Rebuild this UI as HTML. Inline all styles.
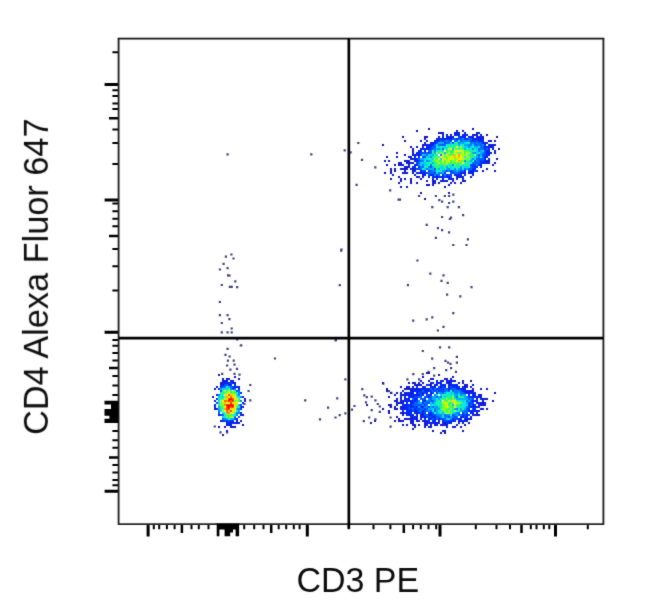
<!DOCTYPE html>
<html><head><meta charset="utf-8"><style>
html,body{margin:0;padding:0;background:#fff;}
body{width:650px;height:607px;position:relative;overflow:hidden;}
svg{position:absolute;left:0;top:0;}
.t{font-family:"Liberation Sans",sans-serif;font-size:34px;fill:#111;}
</style></head><body>
<svg width="650" height="607" viewBox="0 0 650 607">
<defs><filter id="b" x="-5%" y="-5%" width="110%" height="110%"><feConvolveMatrix order="3" kernelMatrix="0.0113 0.0838 0.0113 0.0838 0.6193 0.0838 0.0113 0.0838 0.0113" preserveAlpha="false"/></filter></defs>
<rect width="650" height="607" fill="#fff"/>
<g filter="url(#b)">
<path fill="#424280" d="M224.8 255.6h2.2v2.2h-2.2zM230.3 253.4h2.2v2.2h-2.2zM232.4 257.4h2.2v2.2h-2.2zM222.5 262.8h2.2v2.2h-2.2zM218.8 268.4h2.2v2.2h-2.2zM226.5 267.0h2.2v2.2h-2.2zM227.0 274.2h2.2v2.2h-2.2zM228.3 274.6h2.2v2.2h-2.2zM234.2 280.2h2.2v2.2h-2.2zM220.7 283.9h2.2v2.2h-2.2zM228.8 285.7h2.2v2.2h-2.2zM230.6 285.7h2.2v2.2h-2.2zM236.1 286.0h2.2v2.2h-2.2zM218.8 300.9h2.2v2.2h-2.2zM218.8 314.1h2.2v2.2h-2.2zM226.5 314.1h2.2v2.2h-2.2zM228.3 318.1h2.2v2.2h-2.2zM220.7 321.9h2.2v2.2h-2.2zM230.6 327.4h2.2v2.2h-2.2zM220.7 331.3h2.2v2.2h-2.2zM226.5 331.3h2.2v2.2h-2.2zM230.6 331.3h2.2v2.2h-2.2zM236.1 338.2h2.2v2.2h-2.2zM239.7 344.4h2.2v2.2h-2.2zM226.5 347.7h2.2v2.2h-2.2zM226.5 153.2h2.2v2.2h-2.2zM310.2 153.2h2.2v2.2h-2.2zM343.6 149.2h2.2v2.2h-2.2zM349.5 151.2h2.2v2.2h-2.2zM357.2 141.9h2.2v2.2h-2.2zM355.5 183.7h2.2v2.2h-2.2zM340.4 248.4h2.2v2.2h-2.2zM389.1 189.3h2.2v2.2h-2.2zM397.5 198.6h2.2v2.2h-2.2zM398.9 198.6h2.2v2.2h-2.2zM418.0 194.9h2.2v2.2h-2.2zM431.2 206.1h2.2v2.2h-2.2zM434.8 194.9h2.2v2.2h-2.2zM438.2 199.1h2.2v2.2h-2.2zM441.0 200.5h2.2v2.2h-2.2zM443.8 194.9h2.2v2.2h-2.2zM448.0 194.9h2.2v2.2h-2.2zM452.2 193.5h2.2v2.2h-2.2zM448.0 201.9h2.2v2.2h-2.2zM452.2 200.5h2.2v2.2h-2.2zM446.6 206.1h2.2v2.2h-2.2zM457.8 206.1h2.2v2.2h-2.2zM441.0 215.9h2.2v2.2h-2.2zM449.9 216.5h2.2v2.2h-2.2zM448.8 217.9h2.2v2.2h-2.2zM462.0 214.0h2.2v2.2h-2.2zM425.6 223.8h2.2v2.2h-2.2zM436.8 227.1h2.2v2.2h-2.2zM441.0 229.1h2.2v2.2h-2.2zM448.0 231.3h2.2v2.2h-2.2zM434.8 236.7h2.2v2.2h-2.2zM466.8 238.3h2.2v2.2h-2.2zM452.2 243.9h2.2v2.2h-2.2zM465.4 243.9h2.2v2.2h-2.2zM340.1 249.6h2.2v2.2h-2.2zM416.3 259.4h2.2v2.2h-2.2zM429.2 272.5h2.2v2.2h-2.2zM442.4 274.2h2.2v2.2h-2.2zM440.4 279.8h2.2v2.2h-2.2zM446.6 281.8h2.2v2.2h-2.2zM406.8 284.0h2.2v2.2h-2.2zM338.7 284.0h2.2v2.2h-2.2zM470.4 286.0h2.2v2.2h-2.2zM446.0 293.5h2.2v2.2h-2.2zM459.2 295.2h2.2v2.2h-2.2zM452.2 312.0h2.2v2.2h-2.2zM412.1 319.6h2.2v2.2h-2.2zM425.6 318.2h2.2v2.2h-2.2zM431.2 316.2h2.2v2.2h-2.2zM442.4 325.8h2.2v2.2h-2.2zM436.8 329.4h2.2v2.2h-2.2zM334.5 339.2h2.2v2.2h-2.2zM240.1 344.3h2.2v2.2h-2.2zM273.9 357.4h2.2v2.2h-2.2zM249.2 383.9h2.2v2.2h-2.2zM247.5 389.9h2.2v2.2h-2.2zM249.2 399.2h2.2v2.2h-2.2zM243.3 402.9h2.2v2.2h-2.2zM304.1 399.2h2.2v2.2h-2.2zM344.3 378.3h2.2v2.2h-2.2zM336.1 397.2h2.2v2.2h-2.2zM327.0 406.6h2.2v2.2h-2.2zM318.9 418.2h2.2v2.2h-2.2zM334.4 416.4h2.2v2.2h-2.2zM338.6 414.0h2.2v2.2h-2.2zM344.3 412.3h2.2v2.2h-2.2zM353.4 404.9h2.2v2.2h-2.2zM350.9 408.6h2.2v2.2h-2.2zM361.2 388.1h2.2v2.2h-2.2zM363.2 394.3h2.2v2.2h-2.2zM365.7 396.0h2.2v2.2h-2.2zM370.6 395.5h2.2v2.2h-2.2zM382.2 382.5h2.2v2.2h-2.2zM364.9 401.2h2.2v2.2h-2.2zM374.3 399.2h2.2v2.2h-2.2zM376.7 402.9h2.2v2.2h-2.2zM378.7 405.4h2.2v2.2h-2.2zM370.6 409.1h2.2v2.2h-2.2zM378.7 410.8h2.2v2.2h-2.2zM368.1 416.4h2.2v2.2h-2.2zM362.7 420.1h2.2v2.2h-2.2zM374.3 418.2h2.2v2.2h-2.2zM387.8 390.1h2.2v2.2h-2.2zM390.3 391.8h2.2v2.2h-2.2zM389.5 405.9h2.2v2.2h-2.2zM387.8 410.3h2.2v2.2h-2.2zM389.5 416.4h2.2v2.2h-2.2zM389.5 425.5h2.2v2.2h-2.2zM334.9 338.9h2.2v2.2h-2.2zM224.4 353.7h2.2v2.2h-2.2zM228.5 355.4h2.2v2.2h-2.2zM226.8 359.5h2.2v2.2h-2.2zM232.6 359.5h2.2v2.2h-2.2zM226.0 364.4h2.2v2.2h-2.2zM233.4 363.6h2.2v2.2h-2.2zM229.3 368.6h2.2v2.2h-2.2zM235.9 367.7h2.2v2.2h-2.2zM221.1 372.7h2.2v2.2h-2.2zM233.4 372.7h2.2v2.2h-2.2zM238.4 373.5h2.2v2.2h-2.2zM213.7 425.4h2.2v2.2h-2.2zM219.4 431.2h2.2v2.2h-2.2zM226.0 431.2h2.2v2.2h-2.2zM421.7 349.9h2.2v2.2h-2.2zM438.9 346.2h2.2v2.2h-2.2zM448.1 346.2h2.2v2.2h-2.2zM431.1 357.5h2.2v2.2h-2.2zM455.8 355.8h2.2v2.2h-2.2zM444.4 359.7h2.2v2.2h-2.2zM446.9 361.6h2.2v2.2h-2.2zM449.4 362.8h2.2v2.2h-2.2zM455.8 361.6h2.2v2.2h-2.2zM433.1 367.1h2.2v2.2h-2.2zM450.0 367.1h2.2v2.2h-2.2zM445.1 369.0h2.2v2.2h-2.2zM454.9 370.8h2.2v2.2h-2.2zM412.2 373.0h2.2v2.2h-2.2zM421.7 373.0h2.2v2.2h-2.2zM427.5 370.8h2.2v2.2h-2.2zM433.1 374.5h2.2v2.2h-2.2zM406.3 378.2h2.2v2.2h-2.2zM418.0 378.2h2.2v2.2h-2.2zM360.9 158.8h2.2v2.2h-2.2zM374.2 166.3h2.2v2.2h-2.2z"/>
<path fill="#1414be" d="M428 128h2v2h-2zM416 130h2v2h-2zM402 136h2v2h-2zM404 140h2v2h-2zM382 144h2v2h-2zM396 152h2v2h-2zM386 156h2v2h-2zM388 160h2v2h-2zM494 170h2v2h-2zM384 172h2v2h-2zM420 192h2v2h-2zM448 192h2v2h-2zM424 198h2v2h-2zM426 372h2v2h-2zM218 374h2v2h-2zM382 382h2v2h-2zM486 388h2v2h-2zM494 392h2v2h-2zM366 404h2v2h-2zM382 408h2v2h-2zM374 420h2v2h-2zM370 422h2v2h-2zM222 434h2v2h-2z"/>
<path fill="#1117c9" d="M472 128h2v2h-2zM440 132h2v2h-2zM486 134h2v2h-2zM424 136h2v2h-2zM426 136h2v2h-2zM496 136h2v2h-2zM420 140h2v2h-2zM494 140h2v2h-2zM410 146h2v2h-2zM498 148h2v2h-2zM494 152h2v2h-2zM404 154h2v2h-2zM396 156h2v2h-2zM408 156h2v2h-2zM496 158h2v2h-2zM384 160h2v2h-2zM404 160h2v2h-2zM494 162h2v2h-2zM386 164h2v2h-2zM394 164h2v2h-2zM398 164h2v2h-2zM492 164h2v2h-2zM390 168h2v2h-2zM390 170h2v2h-2zM394 170h2v2h-2zM390 172h2v2h-2zM392 174h2v2h-2zM398 176h2v2h-2zM470 176h2v2h-2zM390 178h2v2h-2zM400 178h2v2h-2zM404 178h2v2h-2zM400 180h2v2h-2zM410 180h2v2h-2zM464 180h2v2h-2zM398 182h2v2h-2zM410 182h2v2h-2zM416 182h2v2h-2zM450 182h2v2h-2zM426 184h2v2h-2zM428 184h2v2h-2zM400 186h2v2h-2zM406 186h2v2h-2zM444 186h2v2h-2zM428 372h2v2h-2zM438 374h2v2h-2zM234 376h2v2h-2zM422 376h2v2h-2zM452 376h2v2h-2zM238 378h2v2h-2zM420 380h2v2h-2zM470 380h2v2h-2zM408 382h2v2h-2zM412 382h2v2h-2zM472 384h2v2h-2zM400 386h2v2h-2zM386 388h2v2h-2zM480 388h2v2h-2zM386 390h2v2h-2zM390 392h2v2h-2zM396 392h2v2h-2zM394 394h2v2h-2zM212 396h2v2h-2zM388 396h2v2h-2zM486 398h2v2h-2zM492 400h2v2h-2zM388 404h2v2h-2zM390 404h2v2h-2zM390 406h2v2h-2zM394 406h2v2h-2zM394 408h2v2h-2zM486 408h2v2h-2zM388 410h2v2h-2zM388 412h2v2h-2zM396 416h2v2h-2zM398 418h2v2h-2zM404 418h2v2h-2zM394 420h2v2h-2zM398 420h2v2h-2zM400 420h2v2h-2zM242 424h2v2h-2zM402 424h2v2h-2zM406 424h2v2h-2zM218 426h2v2h-2zM424 426h2v2h-2zM460 426h2v2h-2zM412 428h2v2h-2zM226 430h2v2h-2zM432 430h2v2h-2zM442 430h2v2h-2zM444 430h2v2h-2zM462 430h2v2h-2zM440 432h2v2h-2zM444 432h2v2h-2z"/>
<path fill="#0d1bd4" d="M456 130h2v2h-2zM462 130h2v2h-2zM438 132h2v2h-2zM442 132h2v2h-2zM454 132h2v2h-2zM476 132h2v2h-2zM478 132h2v2h-2zM442 134h2v2h-2zM452 136h2v2h-2zM424 138h2v2h-2zM490 140h2v2h-2zM424 142h2v2h-2zM494 144h2v2h-2zM416 146h2v2h-2zM412 148h2v2h-2zM492 148h2v2h-2zM412 150h2v2h-2zM410 156h2v2h-2zM488 160h2v2h-2zM398 162h2v2h-2zM400 162h2v2h-2zM406 162h2v2h-2zM400 164h2v2h-2zM402 164h2v2h-2zM404 166h2v2h-2zM394 168h2v2h-2zM400 168h2v2h-2zM402 168h2v2h-2zM404 168h2v2h-2zM406 168h2v2h-2zM412 168h2v2h-2zM486 168h2v2h-2zM404 170h2v2h-2zM482 170h2v2h-2zM402 172h2v2h-2zM404 172h2v2h-2zM406 172h2v2h-2zM412 172h2v2h-2zM414 174h2v2h-2zM472 174h2v2h-2zM416 176h2v2h-2zM418 176h2v2h-2zM410 178h2v2h-2zM420 178h2v2h-2zM426 180h2v2h-2zM434 180h2v2h-2zM452 180h2v2h-2zM462 180h2v2h-2zM432 182h2v2h-2zM438 182h2v2h-2zM454 182h2v2h-2zM460 182h2v2h-2zM432 184h2v2h-2zM448 184h2v2h-2zM222 378h2v2h-2zM228 378h2v2h-2zM430 378h2v2h-2zM432 378h2v2h-2zM446 378h2v2h-2zM428 380h2v2h-2zM454 380h2v2h-2zM462 380h2v2h-2zM414 382h2v2h-2zM418 382h2v2h-2zM422 382h2v2h-2zM458 382h2v2h-2zM416 384h2v2h-2zM464 384h2v2h-2zM238 386h2v2h-2zM406 386h2v2h-2zM214 388h2v2h-2zM404 388h2v2h-2zM406 388h2v2h-2zM408 388h2v2h-2zM402 390h2v2h-2zM472 390h2v2h-2zM400 392h2v2h-2zM404 392h2v2h-2zM480 394h2v2h-2zM480 396h2v2h-2zM244 398h2v2h-2zM396 398h2v2h-2zM484 398h2v2h-2zM394 400h2v2h-2zM396 400h2v2h-2zM482 400h2v2h-2zM396 402h2v2h-2zM484 402h2v2h-2zM396 404h2v2h-2zM482 404h2v2h-2zM484 404h2v2h-2zM396 408h2v2h-2zM482 408h2v2h-2zM400 412h2v2h-2zM476 412h2v2h-2zM242 414h2v2h-2zM476 414h2v2h-2zM478 414h2v2h-2zM240 420h2v2h-2zM402 420h2v2h-2zM238 422h2v2h-2zM462 422h2v2h-2zM468 422h2v2h-2zM412 424h2v2h-2zM414 424h2v2h-2zM418 424h2v2h-2zM436 424h2v2h-2zM440 424h2v2h-2zM442 424h2v2h-2zM446 424h2v2h-2zM456 424h2v2h-2zM464 424h2v2h-2zM224 426h2v2h-2zM230 426h2v2h-2zM232 426h2v2h-2zM234 426h2v2h-2zM414 426h2v2h-2zM428 426h2v2h-2zM430 426h2v2h-2zM446 426h2v2h-2zM452 426h2v2h-2zM454 426h2v2h-2z"/>
<path fill="#0a1ede" d="M458 132h2v2h-2zM464 132h2v2h-2zM446 134h2v2h-2zM472 134h2v2h-2zM474 134h2v2h-2zM480 134h2v2h-2zM438 136h2v2h-2zM482 136h2v2h-2zM450 138h2v2h-2zM482 138h2v2h-2zM426 140h2v2h-2zM488 140h2v2h-2zM422 144h2v2h-2zM424 144h2v2h-2zM490 144h2v2h-2zM492 144h2v2h-2zM490 146h2v2h-2zM492 146h2v2h-2zM494 150h2v2h-2zM412 152h2v2h-2zM412 154h2v2h-2zM414 154h2v2h-2zM410 158h2v2h-2zM406 160h2v2h-2zM408 160h2v2h-2zM486 160h2v2h-2zM408 162h2v2h-2zM410 162h2v2h-2zM488 162h2v2h-2zM408 164h2v2h-2zM406 166h2v2h-2zM408 166h2v2h-2zM410 168h2v2h-2zM412 170h2v2h-2zM414 170h2v2h-2zM470 172h2v2h-2zM472 172h2v2h-2zM424 174h2v2h-2zM430 174h2v2h-2zM422 176h2v2h-2zM460 176h2v2h-2zM462 176h2v2h-2zM450 178h2v2h-2zM462 178h2v2h-2zM432 180h2v2h-2zM440 180h2v2h-2zM442 180h2v2h-2zM446 180h2v2h-2zM434 182h2v2h-2zM226 378h2v2h-2zM444 378h2v2h-2zM450 378h2v2h-2zM222 380h2v2h-2zM224 380h2v2h-2zM226 380h2v2h-2zM232 380h2v2h-2zM436 380h2v2h-2zM442 380h2v2h-2zM448 380h2v2h-2zM452 380h2v2h-2zM220 382h2v2h-2zM234 382h2v2h-2zM430 382h2v2h-2zM448 382h2v2h-2zM462 382h2v2h-2zM414 384h2v2h-2zM418 384h2v2h-2zM420 384h2v2h-2zM430 384h2v2h-2zM434 384h2v2h-2zM466 384h2v2h-2zM216 386h2v2h-2zM408 386h2v2h-2zM412 386h2v2h-2zM464 386h2v2h-2zM470 386h2v2h-2zM412 388h2v2h-2zM472 388h2v2h-2zM462 390h2v2h-2zM470 390h2v2h-2zM400 394h2v2h-2zM402 394h2v2h-2zM404 394h2v2h-2zM478 394h2v2h-2zM242 396h2v2h-2zM400 396h2v2h-2zM400 398h2v2h-2zM482 398h2v2h-2zM244 400h2v2h-2zM400 400h2v2h-2zM476 400h2v2h-2zM398 402h2v2h-2zM400 402h2v2h-2zM402 402h2v2h-2zM482 402h2v2h-2zM480 404h2v2h-2zM400 406h2v2h-2zM214 408h2v2h-2zM480 408h2v2h-2zM476 410h2v2h-2zM478 410h2v2h-2zM402 412h2v2h-2zM402 414h2v2h-2zM420 414h2v2h-2zM474 414h2v2h-2zM416 416h2v2h-2zM406 418h2v2h-2zM410 418h2v2h-2zM416 418h2v2h-2zM430 418h2v2h-2zM466 418h2v2h-2zM468 418h2v2h-2zM470 418h2v2h-2zM220 420h2v2h-2zM236 420h2v2h-2zM410 420h2v2h-2zM412 420h2v2h-2zM416 420h2v2h-2zM418 420h2v2h-2zM422 420h2v2h-2zM466 420h2v2h-2zM236 422h2v2h-2zM410 422h2v2h-2zM412 422h2v2h-2zM424 422h2v2h-2zM436 422h2v2h-2zM444 422h2v2h-2zM458 422h2v2h-2zM226 424h2v2h-2zM230 424h2v2h-2zM424 424h2v2h-2zM430 424h2v2h-2z"/>
<path fill="#0721e9" d="M450 134h2v2h-2zM454 134h2v2h-2zM458 134h2v2h-2zM476 134h2v2h-2zM448 136h2v2h-2zM462 136h2v2h-2zM472 136h2v2h-2zM476 136h2v2h-2zM478 136h2v2h-2zM480 136h2v2h-2zM436 138h2v2h-2zM438 138h2v2h-2zM472 138h2v2h-2zM478 138h2v2h-2zM438 140h2v2h-2zM482 140h2v2h-2zM430 142h2v2h-2zM486 142h2v2h-2zM426 144h2v2h-2zM484 144h2v2h-2zM422 146h2v2h-2zM486 146h2v2h-2zM424 148h2v2h-2zM418 152h2v2h-2zM490 152h2v2h-2zM416 154h2v2h-2zM486 156h2v2h-2zM488 158h2v2h-2zM414 160h2v2h-2zM412 162h2v2h-2zM484 162h2v2h-2zM486 162h2v2h-2zM472 164h2v2h-2zM412 166h2v2h-2zM476 170h2v2h-2zM416 172h2v2h-2zM460 172h2v2h-2zM422 174h2v2h-2zM458 174h2v2h-2zM460 174h2v2h-2zM464 174h2v2h-2zM428 176h2v2h-2zM456 176h2v2h-2zM458 176h2v2h-2zM432 178h2v2h-2zM436 178h2v2h-2zM448 178h2v2h-2zM452 178h2v2h-2zM456 178h2v2h-2zM230 380h2v2h-2zM440 380h2v2h-2zM446 380h2v2h-2zM450 380h2v2h-2zM222 382h2v2h-2zM224 382h2v2h-2zM228 382h2v2h-2zM432 382h2v2h-2zM440 382h2v2h-2zM446 382h2v2h-2zM450 382h2v2h-2zM220 384h2v2h-2zM426 384h2v2h-2zM428 384h2v2h-2zM448 384h2v2h-2zM450 384h2v2h-2zM416 386h2v2h-2zM422 386h2v2h-2zM444 386h2v2h-2zM448 386h2v2h-2zM456 386h2v2h-2zM462 386h2v2h-2zM466 386h2v2h-2zM238 388h2v2h-2zM410 388h2v2h-2zM414 388h2v2h-2zM416 388h2v2h-2zM428 388h2v2h-2zM462 388h2v2h-2zM464 388h2v2h-2zM410 390h2v2h-2zM412 390h2v2h-2zM414 390h2v2h-2zM468 390h2v2h-2zM406 392h2v2h-2zM408 392h2v2h-2zM410 392h2v2h-2zM416 392h2v2h-2zM430 392h2v2h-2zM466 392h2v2h-2zM468 392h2v2h-2zM470 392h2v2h-2zM474 392h2v2h-2zM216 394h2v2h-2zM406 394h2v2h-2zM414 394h2v2h-2zM422 394h2v2h-2zM404 396h2v2h-2zM410 396h2v2h-2zM476 396h2v2h-2zM406 398h2v2h-2zM476 398h2v2h-2zM480 398h2v2h-2zM402 400h2v2h-2zM404 400h2v2h-2zM408 400h2v2h-2zM412 400h2v2h-2zM476 402h2v2h-2zM478 402h2v2h-2zM480 402h2v2h-2zM214 404h2v2h-2zM402 404h2v2h-2zM474 404h2v2h-2zM478 404h2v2h-2zM214 406h2v2h-2zM416 406h2v2h-2zM476 406h2v2h-2zM478 406h2v2h-2zM400 408h2v2h-2zM402 408h2v2h-2zM474 408h2v2h-2zM402 410h2v2h-2zM422 410h2v2h-2zM240 412h2v2h-2zM414 412h2v2h-2zM470 412h2v2h-2zM406 414h2v2h-2zM416 414h2v2h-2zM428 414h2v2h-2zM472 414h2v2h-2zM410 416h2v2h-2zM412 416h2v2h-2zM420 416h2v2h-2zM422 416h2v2h-2zM470 416h2v2h-2zM408 418h2v2h-2zM412 418h2v2h-2zM414 418h2v2h-2zM424 418h2v2h-2zM424 420h2v2h-2zM426 420h2v2h-2zM458 420h2v2h-2zM462 420h2v2h-2zM464 420h2v2h-2zM230 422h2v2h-2zM232 422h2v2h-2zM234 422h2v2h-2zM426 422h2v2h-2zM430 422h2v2h-2zM432 422h2v2h-2zM434 422h2v2h-2zM438 422h2v2h-2zM442 422h2v2h-2zM450 422h2v2h-2zM426 424h2v2h-2zM434 424h2v2h-2zM444 424h2v2h-2z"/>
<path fill="#0325f4" d="M456 132h2v2h-2zM456 134h2v2h-2zM462 134h2v2h-2zM466 134h2v2h-2zM442 136h2v2h-2zM446 136h2v2h-2zM450 136h2v2h-2zM460 136h2v2h-2zM470 136h2v2h-2zM444 138h2v2h-2zM446 138h2v2h-2zM456 138h2v2h-2zM464 138h2v2h-2zM474 138h2v2h-2zM476 138h2v2h-2zM480 138h2v2h-2zM434 140h2v2h-2zM436 140h2v2h-2zM472 140h2v2h-2zM480 140h2v2h-2zM432 142h2v2h-2zM444 142h2v2h-2zM482 142h2v2h-2zM484 142h2v2h-2zM428 144h2v2h-2zM430 144h2v2h-2zM432 144h2v2h-2zM488 144h2v2h-2zM428 146h2v2h-2zM488 146h2v2h-2zM420 148h2v2h-2zM422 148h2v2h-2zM488 148h2v2h-2zM420 150h2v2h-2zM488 150h2v2h-2zM416 152h2v2h-2zM488 152h2v2h-2zM418 156h2v2h-2zM412 158h2v2h-2zM414 158h2v2h-2zM416 158h2v2h-2zM484 158h2v2h-2zM416 160h2v2h-2zM482 162h2v2h-2zM414 164h2v2h-2zM416 164h2v2h-2zM480 164h2v2h-2zM414 166h2v2h-2zM480 166h2v2h-2zM414 168h2v2h-2zM472 168h2v2h-2zM474 168h2v2h-2zM420 170h2v2h-2zM418 172h2v2h-2zM420 172h2v2h-2zM422 172h2v2h-2zM424 172h2v2h-2zM444 172h2v2h-2zM468 172h2v2h-2zM454 174h2v2h-2zM432 176h2v2h-2zM436 176h2v2h-2zM442 176h2v2h-2zM446 176h2v2h-2zM442 178h2v2h-2zM444 180h2v2h-2zM226 382h2v2h-2zM232 382h2v2h-2zM436 382h2v2h-2zM438 382h2v2h-2zM222 384h2v2h-2zM234 384h2v2h-2zM436 384h2v2h-2zM442 384h2v2h-2zM444 384h2v2h-2zM454 384h2v2h-2zM456 384h2v2h-2zM220 386h2v2h-2zM234 386h2v2h-2zM424 386h2v2h-2zM430 386h2v2h-2zM434 386h2v2h-2zM440 386h2v2h-2zM452 386h2v2h-2zM218 388h2v2h-2zM232 388h2v2h-2zM418 388h2v2h-2zM420 388h2v2h-2zM422 388h2v2h-2zM418 390h2v2h-2zM420 390h2v2h-2zM424 390h2v2h-2zM426 390h2v2h-2zM428 390h2v2h-2zM464 390h2v2h-2zM240 392h2v2h-2zM412 392h2v2h-2zM426 392h2v2h-2zM472 392h2v2h-2zM408 394h2v2h-2zM416 394h2v2h-2zM472 394h2v2h-2zM474 394h2v2h-2zM408 396h2v2h-2zM412 396h2v2h-2zM470 396h2v2h-2zM472 396h2v2h-2zM474 396h2v2h-2zM478 396h2v2h-2zM404 398h2v2h-2zM408 398h2v2h-2zM414 398h2v2h-2zM416 398h2v2h-2zM214 400h2v2h-2zM424 400h2v2h-2zM422 402h2v2h-2zM404 404h2v2h-2zM406 404h2v2h-2zM242 406h2v2h-2zM404 406h2v2h-2zM472 406h2v2h-2zM474 406h2v2h-2zM216 408h2v2h-2zM240 408h2v2h-2zM404 408h2v2h-2zM406 408h2v2h-2zM414 408h2v2h-2zM408 410h2v2h-2zM410 410h2v2h-2zM472 410h2v2h-2zM474 410h2v2h-2zM404 412h2v2h-2zM408 412h2v2h-2zM416 412h2v2h-2zM422 412h2v2h-2zM472 412h2v2h-2zM218 414h2v2h-2zM240 414h2v2h-2zM408 414h2v2h-2zM410 414h2v2h-2zM412 414h2v2h-2zM422 414h2v2h-2zM414 416h2v2h-2zM424 416h2v2h-2zM434 416h2v2h-2zM460 416h2v2h-2zM462 416h2v2h-2zM466 416h2v2h-2zM236 418h2v2h-2zM420 418h2v2h-2zM428 418h2v2h-2zM438 418h2v2h-2zM464 418h2v2h-2zM222 420h2v2h-2zM226 420h2v2h-2zM230 420h2v2h-2zM432 420h2v2h-2zM448 420h2v2h-2zM452 420h2v2h-2zM454 420h2v2h-2zM228 422h2v2h-2zM428 422h2v2h-2zM446 422h2v2h-2zM448 422h2v2h-2zM228 424h2v2h-2z"/>
<path fill="#0028ff" d="M464 134h2v2h-2zM464 136h2v2h-2zM468 136h2v2h-2zM440 138h2v2h-2zM442 138h2v2h-2zM448 138h2v2h-2zM466 138h2v2h-2zM470 140h2v2h-2zM478 140h2v2h-2zM434 142h2v2h-2zM452 142h2v2h-2zM426 146h2v2h-2zM430 146h2v2h-2zM484 146h2v2h-2zM426 148h2v2h-2zM428 148h2v2h-2zM484 148h2v2h-2zM418 150h2v2h-2zM424 150h2v2h-2zM486 150h2v2h-2zM428 152h2v2h-2zM486 152h2v2h-2zM418 154h2v2h-2zM420 154h2v2h-2zM486 154h2v2h-2zM488 154h2v2h-2zM414 156h2v2h-2zM484 156h2v2h-2zM480 160h2v2h-2zM484 160h2v2h-2zM480 162h2v2h-2zM470 164h2v2h-2zM478 164h2v2h-2zM418 166h2v2h-2zM474 166h2v2h-2zM476 166h2v2h-2zM434 168h2v2h-2zM450 170h2v2h-2zM464 170h2v2h-2zM470 170h2v2h-2zM472 170h2v2h-2zM434 172h2v2h-2zM462 172h2v2h-2zM464 172h2v2h-2zM432 174h2v2h-2zM442 174h2v2h-2zM446 174h2v2h-2zM456 174h2v2h-2zM434 176h2v2h-2zM438 176h2v2h-2zM440 176h2v2h-2zM448 176h2v2h-2zM228 384h2v2h-2zM230 384h2v2h-2zM440 384h2v2h-2zM452 384h2v2h-2zM236 386h2v2h-2zM432 386h2v2h-2zM454 386h2v2h-2zM458 386h2v2h-2zM424 388h2v2h-2zM426 388h2v2h-2zM432 388h2v2h-2zM436 388h2v2h-2zM448 388h2v2h-2zM456 388h2v2h-2zM458 388h2v2h-2zM460 388h2v2h-2zM416 390h2v2h-2zM438 390h2v2h-2zM448 390h2v2h-2zM466 390h2v2h-2zM422 392h2v2h-2zM464 392h2v2h-2zM410 394h2v2h-2zM412 394h2v2h-2zM418 394h2v2h-2zM430 394h2v2h-2zM468 394h2v2h-2zM428 396h2v2h-2zM216 398h2v2h-2zM406 400h2v2h-2zM410 400h2v2h-2zM414 400h2v2h-2zM472 400h2v2h-2zM474 400h2v2h-2zM242 402h2v2h-2zM406 402h2v2h-2zM410 402h2v2h-2zM412 402h2v2h-2zM408 404h2v2h-2zM410 404h2v2h-2zM424 404h2v2h-2zM468 404h2v2h-2zM472 404h2v2h-2zM240 406h2v2h-2zM402 406h2v2h-2zM406 406h2v2h-2zM410 406h2v2h-2zM412 406h2v2h-2zM420 406h2v2h-2zM422 406h2v2h-2zM470 406h2v2h-2zM418 408h2v2h-2zM424 408h2v2h-2zM406 410h2v2h-2zM414 410h2v2h-2zM416 410h2v2h-2zM468 410h2v2h-2zM470 410h2v2h-2zM406 412h2v2h-2zM410 412h2v2h-2zM418 412h2v2h-2zM430 412h2v2h-2zM430 414h2v2h-2zM462 414h2v2h-2zM466 414h2v2h-2zM432 416h2v2h-2zM448 416h2v2h-2zM434 418h2v2h-2zM452 418h2v2h-2zM458 418h2v2h-2zM460 418h2v2h-2zM232 420h2v2h-2zM428 420h2v2h-2zM434 420h2v2h-2zM438 420h2v2h-2zM442 420h2v2h-2zM446 420h2v2h-2zM450 420h2v2h-2zM460 420h2v2h-2zM226 422h2v2h-2z"/>
<path fill="#0046ff" d="M458 136h2v2h-2zM452 138h2v2h-2zM460 138h2v2h-2zM442 140h2v2h-2zM450 140h2v2h-2zM460 140h2v2h-2zM474 140h2v2h-2zM476 140h2v2h-2zM436 142h2v2h-2zM442 144h2v2h-2zM434 146h2v2h-2zM430 148h2v2h-2zM478 148h2v2h-2zM484 150h2v2h-2zM420 152h2v2h-2zM422 152h2v2h-2zM424 152h2v2h-2zM484 152h2v2h-2zM440 154h2v2h-2zM482 154h2v2h-2zM484 154h2v2h-2zM422 156h2v2h-2zM424 156h2v2h-2zM418 160h2v2h-2zM474 160h2v2h-2zM482 160h2v2h-2zM416 162h2v2h-2zM474 164h2v2h-2zM430 166h2v2h-2zM472 166h2v2h-2zM416 168h2v2h-2zM418 168h2v2h-2zM468 168h2v2h-2zM422 170h2v2h-2zM424 170h2v2h-2zM428 170h2v2h-2zM446 170h2v2h-2zM460 170h2v2h-2zM468 170h2v2h-2zM474 170h2v2h-2zM426 172h2v2h-2zM452 172h2v2h-2zM458 172h2v2h-2zM428 174h2v2h-2zM436 174h2v2h-2zM448 174h2v2h-2zM450 174h2v2h-2zM444 176h2v2h-2zM450 176h2v2h-2zM230 382h2v2h-2zM224 384h2v2h-2zM222 386h2v2h-2zM232 386h2v2h-2zM438 386h2v2h-2zM442 386h2v2h-2zM450 386h2v2h-2zM438 388h2v2h-2zM440 388h2v2h-2zM442 388h2v2h-2zM450 388h2v2h-2zM220 390h2v2h-2zM236 390h2v2h-2zM430 390h2v2h-2zM434 390h2v2h-2zM440 390h2v2h-2zM442 390h2v2h-2zM452 390h2v2h-2zM418 392h2v2h-2zM420 392h2v2h-2zM424 392h2v2h-2zM432 392h2v2h-2zM436 392h2v2h-2zM420 394h2v2h-2zM426 394h2v2h-2zM428 394h2v2h-2zM414 396h2v2h-2zM416 396h2v2h-2zM426 396h2v2h-2zM468 396h2v2h-2zM424 398h2v2h-2zM472 398h2v2h-2zM416 400h2v2h-2zM422 400h2v2h-2zM470 400h2v2h-2zM216 402h2v2h-2zM426 402h2v2h-2zM428 402h2v2h-2zM468 402h2v2h-2zM470 402h2v2h-2zM472 402h2v2h-2zM240 404h2v2h-2zM412 404h2v2h-2zM418 404h2v2h-2zM408 406h2v2h-2zM414 406h2v2h-2zM428 406h2v2h-2zM468 406h2v2h-2zM408 408h2v2h-2zM410 408h2v2h-2zM416 408h2v2h-2zM466 408h2v2h-2zM468 408h2v2h-2zM472 408h2v2h-2zM412 410h2v2h-2zM424 410h2v2h-2zM420 412h2v2h-2zM424 412h2v2h-2zM428 412h2v2h-2zM462 412h2v2h-2zM220 414h2v2h-2zM424 414h2v2h-2zM432 414h2v2h-2zM434 414h2v2h-2zM452 414h2v2h-2zM464 414h2v2h-2zM468 414h2v2h-2zM238 416h2v2h-2zM426 416h2v2h-2zM428 416h2v2h-2zM430 416h2v2h-2zM454 416h2v2h-2zM464 416h2v2h-2zM234 418h2v2h-2zM440 418h2v2h-2zM442 418h2v2h-2zM454 418h2v2h-2zM456 418h2v2h-2zM224 420h2v2h-2zM228 420h2v2h-2zM444 420h2v2h-2z"/>
<path fill="#0064ff" d="M454 138h2v2h-2zM458 138h2v2h-2zM468 138h2v2h-2zM470 138h2v2h-2zM440 140h2v2h-2zM444 140h2v2h-2zM448 140h2v2h-2zM454 140h2v2h-2zM456 140h2v2h-2zM446 142h2v2h-2zM448 142h2v2h-2zM470 142h2v2h-2zM474 142h2v2h-2zM478 142h2v2h-2zM480 142h2v2h-2zM434 144h2v2h-2zM438 144h2v2h-2zM440 144h2v2h-2zM444 144h2v2h-2zM474 144h2v2h-2zM476 144h2v2h-2zM480 144h2v2h-2zM432 146h2v2h-2zM480 146h2v2h-2zM482 146h2v2h-2zM432 148h2v2h-2zM442 148h2v2h-2zM480 148h2v2h-2zM482 148h2v2h-2zM486 148h2v2h-2zM428 150h2v2h-2zM430 150h2v2h-2zM426 152h2v2h-2zM430 152h2v2h-2zM426 154h2v2h-2zM478 154h2v2h-2zM478 156h2v2h-2zM482 156h2v2h-2zM418 158h2v2h-2zM476 158h2v2h-2zM478 158h2v2h-2zM480 158h2v2h-2zM482 158h2v2h-2zM420 160h2v2h-2zM478 160h2v2h-2zM418 162h2v2h-2zM472 162h2v2h-2zM474 162h2v2h-2zM476 162h2v2h-2zM478 162h2v2h-2zM430 164h2v2h-2zM422 166h2v2h-2zM470 166h2v2h-2zM420 168h2v2h-2zM426 168h2v2h-2zM464 168h2v2h-2zM470 168h2v2h-2zM430 170h2v2h-2zM452 170h2v2h-2zM462 170h2v2h-2zM428 172h2v2h-2zM430 172h2v2h-2zM432 172h2v2h-2zM450 172h2v2h-2zM454 172h2v2h-2zM456 172h2v2h-2zM438 174h2v2h-2zM226 384h2v2h-2zM224 386h2v2h-2zM230 386h2v2h-2zM234 388h2v2h-2zM430 388h2v2h-2zM434 388h2v2h-2zM444 388h2v2h-2zM446 388h2v2h-2zM452 388h2v2h-2zM454 388h2v2h-2zM238 390h2v2h-2zM422 390h2v2h-2zM432 390h2v2h-2zM436 390h2v2h-2zM444 390h2v2h-2zM460 390h2v2h-2zM442 392h2v2h-2zM460 392h2v2h-2zM462 392h2v2h-2zM418 396h2v2h-2zM420 396h2v2h-2zM424 396h2v2h-2zM430 396h2v2h-2zM436 396h2v2h-2zM456 396h2v2h-2zM412 398h2v2h-2zM420 398h2v2h-2zM422 398h2v2h-2zM430 398h2v2h-2zM468 398h2v2h-2zM430 400h2v2h-2zM432 400h2v2h-2zM466 400h2v2h-2zM414 402h2v2h-2zM416 402h2v2h-2zM414 404h2v2h-2zM416 404h2v2h-2zM420 404h2v2h-2zM470 404h2v2h-2zM432 406h2v2h-2zM412 408h2v2h-2zM420 408h2v2h-2zM422 408h2v2h-2zM426 408h2v2h-2zM418 410h2v2h-2zM420 410h2v2h-2zM430 410h2v2h-2zM434 410h2v2h-2zM464 410h2v2h-2zM466 410h2v2h-2zM218 412h2v2h-2zM432 412h2v2h-2zM458 412h2v2h-2zM466 412h2v2h-2zM222 414h2v2h-2zM426 414h2v2h-2zM444 414h2v2h-2zM458 414h2v2h-2zM234 416h2v2h-2zM436 416h2v2h-2zM438 416h2v2h-2zM452 416h2v2h-2zM456 416h2v2h-2zM222 418h2v2h-2zM432 418h2v2h-2zM436 418h2v2h-2zM444 418h2v2h-2z"/>
<path fill="#0082ff" d="M462 138h2v2h-2zM446 140h2v2h-2zM462 140h2v2h-2zM464 140h2v2h-2zM466 140h2v2h-2zM468 140h2v2h-2zM458 142h2v2h-2zM472 142h2v2h-2zM476 142h2v2h-2zM468 144h2v2h-2zM470 144h2v2h-2zM478 144h2v2h-2zM482 144h2v2h-2zM468 146h2v2h-2zM434 148h2v2h-2zM438 148h2v2h-2zM472 148h2v2h-2zM434 150h2v2h-2zM478 150h2v2h-2zM474 152h2v2h-2zM482 152h2v2h-2zM430 156h2v2h-2zM472 158h2v2h-2zM422 160h2v2h-2zM426 160h2v2h-2zM464 160h2v2h-2zM476 160h2v2h-2zM418 164h2v2h-2zM422 164h2v2h-2zM452 164h2v2h-2zM476 164h2v2h-2zM420 166h2v2h-2zM428 166h2v2h-2zM460 166h2v2h-2zM448 168h2v2h-2zM454 168h2v2h-2zM460 168h2v2h-2zM432 170h2v2h-2zM434 170h2v2h-2zM444 170h2v2h-2zM448 170h2v2h-2zM454 170h2v2h-2zM458 170h2v2h-2zM438 172h2v2h-2zM440 172h2v2h-2zM434 174h2v2h-2zM444 174h2v2h-2zM230 388h2v2h-2zM446 390h2v2h-2zM454 390h2v2h-2zM456 390h2v2h-2zM458 390h2v2h-2zM238 392h2v2h-2zM440 392h2v2h-2zM454 392h2v2h-2zM456 392h2v2h-2zM218 394h2v2h-2zM238 394h2v2h-2zM434 394h2v2h-2zM460 394h2v2h-2zM240 396h2v2h-2zM440 396h2v2h-2zM466 396h2v2h-2zM428 398h2v2h-2zM470 398h2v2h-2zM240 400h2v2h-2zM418 400h2v2h-2zM426 400h2v2h-2zM428 400h2v2h-2zM424 402h2v2h-2zM432 402h2v2h-2zM422 404h2v2h-2zM426 404h2v2h-2zM424 406h2v2h-2zM426 406h2v2h-2zM436 406h2v2h-2zM466 406h2v2h-2zM238 408h2v2h-2zM434 408h2v2h-2zM454 408h2v2h-2zM456 408h2v2h-2zM218 410h2v2h-2zM426 410h2v2h-2zM428 410h2v2h-2zM462 410h2v2h-2zM236 412h2v2h-2zM238 412h2v2h-2zM456 412h2v2h-2zM464 412h2v2h-2zM236 414h2v2h-2zM436 414h2v2h-2zM438 414h2v2h-2zM440 414h2v2h-2zM446 414h2v2h-2zM448 414h2v2h-2zM454 414h2v2h-2zM460 414h2v2h-2zM440 416h2v2h-2zM444 416h2v2h-2zM446 416h2v2h-2zM224 418h2v2h-2zM450 418h2v2h-2z"/>
<path fill="#00acf9" d="M438 142h2v2h-2zM440 142h2v2h-2zM442 142h2v2h-2zM460 142h2v2h-2zM462 142h2v2h-2zM458 144h2v2h-2zM464 144h2v2h-2zM466 144h2v2h-2zM474 146h2v2h-2zM476 146h2v2h-2zM436 148h2v2h-2zM452 148h2v2h-2zM464 148h2v2h-2zM480 150h2v2h-2zM434 152h2v2h-2zM444 152h2v2h-2zM472 152h2v2h-2zM480 152h2v2h-2zM424 154h2v2h-2zM432 154h2v2h-2zM476 154h2v2h-2zM480 154h2v2h-2zM476 156h2v2h-2zM420 158h2v2h-2zM422 158h2v2h-2zM440 158h2v2h-2zM428 160h2v2h-2zM470 160h2v2h-2zM432 162h2v2h-2zM432 166h2v2h-2zM446 166h2v2h-2zM428 168h2v2h-2zM430 168h2v2h-2zM432 168h2v2h-2zM438 168h2v2h-2zM446 168h2v2h-2zM458 168h2v2h-2zM466 168h2v2h-2zM442 170h2v2h-2zM456 170h2v2h-2zM442 172h2v2h-2zM228 386h2v2h-2zM220 388h2v2h-2zM438 392h2v2h-2zM444 392h2v2h-2zM458 392h2v2h-2zM454 394h2v2h-2zM456 394h2v2h-2zM462 394h2v2h-2zM464 394h2v2h-2zM432 396h2v2h-2zM434 396h2v2h-2zM438 396h2v2h-2zM454 396h2v2h-2zM464 396h2v2h-2zM432 398h2v2h-2zM434 398h2v2h-2zM438 398h2v2h-2zM456 398h2v2h-2zM458 398h2v2h-2zM460 398h2v2h-2zM462 398h2v2h-2zM464 398h2v2h-2zM466 398h2v2h-2zM434 400h2v2h-2zM468 400h2v2h-2zM418 402h2v2h-2zM420 402h2v2h-2zM466 402h2v2h-2zM238 404h2v2h-2zM452 404h2v2h-2zM218 406h2v2h-2zM418 406h2v2h-2zM430 406h2v2h-2zM434 406h2v2h-2zM218 408h2v2h-2zM236 408h2v2h-2zM428 408h2v2h-2zM430 408h2v2h-2zM436 408h2v2h-2zM438 408h2v2h-2zM460 408h2v2h-2zM464 408h2v2h-2zM238 410h2v2h-2zM436 410h2v2h-2zM460 410h2v2h-2zM436 412h2v2h-2zM442 412h2v2h-2zM454 412h2v2h-2zM456 414h2v2h-2zM450 416h2v2h-2zM226 418h2v2h-2zM230 418h2v2h-2zM232 418h2v2h-2z"/>
<path fill="#00d5f2" d="M450 142h2v2h-2zM464 142h2v2h-2zM436 144h2v2h-2zM472 144h2v2h-2zM438 146h2v2h-2zM442 146h2v2h-2zM444 146h2v2h-2zM464 146h2v2h-2zM466 146h2v2h-2zM470 146h2v2h-2zM478 146h2v2h-2zM440 148h2v2h-2zM446 148h2v2h-2zM476 148h2v2h-2zM442 150h2v2h-2zM476 150h2v2h-2zM482 150h2v2h-2zM476 152h2v2h-2zM422 154h2v2h-2zM428 154h2v2h-2zM430 154h2v2h-2zM426 156h2v2h-2zM428 156h2v2h-2zM464 156h2v2h-2zM474 156h2v2h-2zM480 156h2v2h-2zM424 158h2v2h-2zM432 158h2v2h-2zM470 158h2v2h-2zM474 158h2v2h-2zM430 160h2v2h-2zM420 162h2v2h-2zM422 162h2v2h-2zM424 162h2v2h-2zM420 164h2v2h-2zM424 164h2v2h-2zM426 164h2v2h-2zM462 164h2v2h-2zM440 166h2v2h-2zM442 166h2v2h-2zM450 166h2v2h-2zM464 166h2v2h-2zM466 166h2v2h-2zM424 168h2v2h-2zM442 168h2v2h-2zM450 168h2v2h-2zM436 172h2v2h-2zM222 388h2v2h-2zM224 388h2v2h-2zM226 388h2v2h-2zM450 392h2v2h-2zM452 392h2v2h-2zM236 394h2v2h-2zM436 394h2v2h-2zM440 394h2v2h-2zM450 394h2v2h-2zM218 396h2v2h-2zM222 396h2v2h-2zM444 396h2v2h-2zM218 400h2v2h-2zM440 400h2v2h-2zM462 400h2v2h-2zM218 402h2v2h-2zM430 402h2v2h-2zM434 402h2v2h-2zM430 404h2v2h-2zM434 404h2v2h-2zM460 404h2v2h-2zM466 404h2v2h-2zM438 406h2v2h-2zM464 406h2v2h-2zM432 408h2v2h-2zM220 410h2v2h-2zM222 412h2v2h-2zM438 412h2v2h-2zM452 412h2v2h-2zM442 414h2v2h-2zM222 416h2v2h-2zM442 416h2v2h-2zM446 418h2v2h-2zM448 418h2v2h-2z"/>
<path fill="#07ead5" d="M458 140h2v2h-2zM466 142h2v2h-2zM446 144h2v2h-2zM450 144h2v2h-2zM460 144h2v2h-2zM436 146h2v2h-2zM450 146h2v2h-2zM462 146h2v2h-2zM472 146h2v2h-2zM468 148h2v2h-2zM470 148h2v2h-2zM474 148h2v2h-2zM470 150h2v2h-2zM478 152h2v2h-2zM436 154h2v2h-2zM468 154h2v2h-2zM426 158h2v2h-2zM428 158h2v2h-2zM424 160h2v2h-2zM468 162h2v2h-2zM428 164h2v2h-2zM434 164h2v2h-2zM446 164h2v2h-2zM450 164h2v2h-2zM464 164h2v2h-2zM424 166h2v2h-2zM462 166h2v2h-2zM468 166h2v2h-2zM422 168h2v2h-2zM440 168h2v2h-2zM452 168h2v2h-2zM456 168h2v2h-2zM462 168h2v2h-2zM438 170h2v2h-2zM226 386h2v2h-2zM220 392h2v2h-2zM236 392h2v2h-2zM446 392h2v2h-2zM448 392h2v2h-2zM222 394h2v2h-2zM446 394h2v2h-2zM458 394h2v2h-2zM236 396h2v2h-2zM238 396h2v2h-2zM218 398h2v2h-2zM238 398h2v2h-2zM440 398h2v2h-2zM436 400h2v2h-2zM460 400h2v2h-2zM464 400h2v2h-2zM438 402h2v2h-2zM462 402h2v2h-2zM464 402h2v2h-2zM432 404h2v2h-2zM436 404h2v2h-2zM462 404h2v2h-2zM464 404h2v2h-2zM460 406h2v2h-2zM462 406h2v2h-2zM458 408h2v2h-2zM236 410h2v2h-2zM432 410h2v2h-2zM438 410h2v2h-2zM440 410h2v2h-2zM456 410h2v2h-2zM224 412h2v2h-2zM434 412h2v2h-2zM232 414h2v2h-2zM234 414h2v2h-2zM450 414h2v2h-2zM224 416h2v2h-2z"/>
<path fill="#12f1a9" d="M454 142h2v2h-2zM468 142h2v2h-2zM448 144h2v2h-2zM452 144h2v2h-2zM454 144h2v2h-2zM456 144h2v2h-2zM462 144h2v2h-2zM446 146h2v2h-2zM458 146h2v2h-2zM444 148h2v2h-2zM458 148h2v2h-2zM466 148h2v2h-2zM432 150h2v2h-2zM436 150h2v2h-2zM438 150h2v2h-2zM472 150h2v2h-2zM438 152h2v2h-2zM458 152h2v2h-2zM470 152h2v2h-2zM432 156h2v2h-2zM438 156h2v2h-2zM430 158h2v2h-2zM468 160h2v2h-2zM472 160h2v2h-2zM426 162h2v2h-2zM430 162h2v2h-2zM464 162h2v2h-2zM466 162h2v2h-2zM470 162h2v2h-2zM440 164h2v2h-2zM448 164h2v2h-2zM458 164h2v2h-2zM468 164h2v2h-2zM434 166h2v2h-2zM452 166h2v2h-2zM454 166h2v2h-2zM456 166h2v2h-2zM458 166h2v2h-2zM436 168h2v2h-2zM444 168h2v2h-2zM436 170h2v2h-2zM440 170h2v2h-2zM230 390h2v2h-2zM234 390h2v2h-2zM220 394h2v2h-2zM442 394h2v2h-2zM444 394h2v2h-2zM448 394h2v2h-2zM442 396h2v2h-2zM446 396h2v2h-2zM462 396h2v2h-2zM220 398h2v2h-2zM436 398h2v2h-2zM454 398h2v2h-2zM458 400h2v2h-2zM440 402h2v2h-2zM448 402h2v2h-2zM218 404h2v2h-2zM440 404h2v2h-2zM236 406h2v2h-2zM238 406h2v2h-2zM222 408h2v2h-2zM448 408h2v2h-2zM450 410h2v2h-2zM452 410h2v2h-2zM458 410h2v2h-2zM234 412h2v2h-2zM440 412h2v2h-2z"/>
<path fill="#1df87c" d="M456 142h2v2h-2zM440 146h2v2h-2zM454 146h2v2h-2zM462 148h2v2h-2zM450 150h2v2h-2zM474 150h2v2h-2zM432 152h2v2h-2zM450 152h2v2h-2zM452 152h2v2h-2zM472 154h2v2h-2zM434 156h2v2h-2zM470 156h2v2h-2zM472 156h2v2h-2zM428 162h2v2h-2zM436 162h2v2h-2zM454 162h2v2h-2zM438 164h2v2h-2zM442 164h2v2h-2zM456 164h2v2h-2zM448 166h2v2h-2zM228 388h2v2h-2zM222 390h2v2h-2zM450 390h2v2h-2zM224 392h2v2h-2zM452 394h2v2h-2zM220 396h2v2h-2zM448 396h2v2h-2zM450 396h2v2h-2zM458 396h2v2h-2zM460 396h2v2h-2zM444 398h2v2h-2zM450 398h2v2h-2zM456 400h2v2h-2zM438 404h2v2h-2zM448 404h2v2h-2zM456 404h2v2h-2zM220 406h2v2h-2zM456 406h2v2h-2zM458 406h2v2h-2zM440 408h2v2h-2zM452 408h2v2h-2zM462 408h2v2h-2zM224 414h2v2h-2zM228 418h2v2h-2z"/>
<path fill="#28ff50" d="M448 146h2v2h-2zM452 146h2v2h-2zM440 150h2v2h-2zM446 150h2v2h-2zM452 150h2v2h-2zM464 150h2v2h-2zM468 150h2v2h-2zM446 152h2v2h-2zM464 152h2v2h-2zM434 154h2v2h-2zM444 154h2v2h-2zM450 154h2v2h-2zM470 154h2v2h-2zM436 158h2v2h-2zM432 160h2v2h-2zM438 160h2v2h-2zM440 160h2v2h-2zM444 160h2v2h-2zM450 160h2v2h-2zM466 160h2v2h-2zM434 162h2v2h-2zM440 162h2v2h-2zM450 162h2v2h-2zM458 162h2v2h-2zM432 164h2v2h-2zM466 164h2v2h-2zM426 166h2v2h-2zM436 166h2v2h-2zM438 166h2v2h-2zM444 166h2v2h-2zM226 390h2v2h-2zM222 392h2v2h-2zM230 392h2v2h-2zM234 392h2v2h-2zM222 398h2v2h-2zM442 398h2v2h-2zM448 398h2v2h-2zM238 400h2v2h-2zM438 400h2v2h-2zM446 400h2v2h-2zM436 402h2v2h-2zM450 402h2v2h-2zM458 404h2v2h-2zM440 406h2v2h-2zM450 406h2v2h-2zM452 406h2v2h-2zM220 408h2v2h-2zM442 410h2v2h-2zM446 410h2v2h-2zM230 414h2v2h-2zM228 416h2v2h-2z"/>
<path fill="#52ff3a" d="M456 148h2v2h-2zM448 150h2v2h-2zM466 150h2v2h-2zM442 152h2v2h-2zM460 152h2v2h-2zM448 154h2v2h-2zM454 154h2v2h-2zM436 156h2v2h-2zM446 156h2v2h-2zM466 158h2v2h-2zM434 160h2v2h-2zM460 160h2v2h-2zM462 160h2v2h-2zM444 162h2v2h-2zM448 162h2v2h-2zM452 162h2v2h-2zM456 162h2v2h-2zM460 162h2v2h-2zM436 164h2v2h-2zM444 164h2v2h-2zM454 164h2v2h-2zM460 164h2v2h-2zM232 392h2v2h-2zM224 396h2v2h-2zM452 398h2v2h-2zM234 400h2v2h-2zM444 400h2v2h-2zM452 402h2v2h-2zM460 402h2v2h-2zM442 404h2v2h-2zM450 404h2v2h-2zM222 406h2v2h-2zM442 406h2v2h-2zM446 408h2v2h-2zM444 412h2v2h-2zM450 412h2v2h-2zM226 414h2v2h-2zM228 414h2v2h-2zM226 416h2v2h-2z"/>
<path fill="#7bff24" d="M460 146h2v2h-2zM454 148h2v2h-2zM460 148h2v2h-2zM436 152h2v2h-2zM440 152h2v2h-2zM456 152h2v2h-2zM464 154h2v2h-2zM474 154h2v2h-2zM444 156h2v2h-2zM466 156h2v2h-2zM468 156h2v2h-2zM434 158h2v2h-2zM446 158h2v2h-2zM454 158h2v2h-2zM464 158h2v2h-2zM468 158h2v2h-2zM452 160h2v2h-2zM454 160h2v2h-2zM442 162h2v2h-2zM452 396h2v2h-2zM446 398h2v2h-2zM450 400h2v2h-2zM220 402h2v2h-2zM442 402h2v2h-2zM458 402h2v2h-2zM220 404h2v2h-2zM222 404h2v2h-2zM236 404h2v2h-2zM448 406h2v2h-2zM444 408h2v2h-2zM450 408h2v2h-2zM444 410h2v2h-2zM454 410h2v2h-2zM446 412h2v2h-2zM448 412h2v2h-2zM232 416h2v2h-2z"/>
<path fill="#a5ff0d" d="M448 148h2v2h-2zM462 150h2v2h-2zM448 152h2v2h-2zM466 152h2v2h-2zM468 152h2v2h-2zM462 154h2v2h-2zM466 154h2v2h-2zM442 156h2v2h-2zM448 156h2v2h-2zM462 156h2v2h-2zM456 158h2v2h-2zM462 158h2v2h-2zM436 160h2v2h-2zM224 390h2v2h-2zM228 390h2v2h-2zM232 390h2v2h-2zM226 392h2v2h-2zM234 394h2v2h-2zM224 398h2v2h-2zM220 400h2v2h-2zM236 400h2v2h-2zM222 402h2v2h-2zM456 402h2v2h-2zM444 404h2v2h-2zM454 404h2v2h-2zM444 406h2v2h-2zM442 408h2v2h-2zM222 410h2v2h-2zM448 410h2v2h-2zM230 416h2v2h-2z"/>
<path fill="#c5fc00" d="M456 146h2v2h-2zM450 148h2v2h-2zM442 154h2v2h-2zM460 154h2v2h-2zM452 156h2v2h-2zM442 158h2v2h-2zM442 160h2v2h-2zM446 160h2v2h-2zM448 160h2v2h-2zM438 162h2v2h-2zM228 392h2v2h-2zM234 398h2v2h-2zM236 398h2v2h-2zM448 400h2v2h-2zM454 400h2v2h-2zM446 402h2v2h-2zM446 404h2v2h-2zM232 408h2v2h-2zM234 410h2v2h-2z"/>
<path fill="#d5f600" d="M444 150h2v2h-2zM454 150h2v2h-2zM458 150h2v2h-2zM462 152h2v2h-2zM444 158h2v2h-2zM448 158h2v2h-2zM446 162h2v2h-2zM462 162h2v2h-2zM228 402h2v2h-2zM234 402h2v2h-2zM446 406h2v2h-2zM454 406h2v2h-2zM224 410h2v2h-2zM232 412h2v2h-2z"/>
<path fill="#e6f000" d="M456 150h2v2h-2zM460 150h2v2h-2zM454 152h2v2h-2zM456 154h2v2h-2zM440 156h2v2h-2zM438 158h2v2h-2zM450 158h2v2h-2zM452 158h2v2h-2zM228 396h2v2h-2zM234 396h2v2h-2zM444 402h2v2h-2zM234 406h2v2h-2zM230 408h2v2h-2zM232 410h2v2h-2zM230 412h2v2h-2z"/>
<path fill="#f7e900" d="M450 156h2v2h-2zM456 156h2v2h-2zM460 156h2v2h-2zM458 158h2v2h-2zM460 158h2v2h-2zM456 160h2v2h-2zM226 394h2v2h-2zM222 400h2v2h-2zM442 400h2v2h-2zM226 402h2v2h-2zM236 402h2v2h-2zM454 402h2v2h-2zM234 404h2v2h-2zM224 406h2v2h-2z"/>
<path fill="#ffd800" d="M446 154h2v2h-2zM224 394h2v2h-2zM232 394h2v2h-2zM232 396h2v2h-2zM226 398h2v2h-2zM452 400h2v2h-2zM232 402h2v2h-2zM234 408h2v2h-2z"/>
<path fill="#ffbc00" d="M454 156h2v2h-2zM458 156h2v2h-2zM230 394h2v2h-2zM224 402h2v2h-2zM228 410h2v2h-2z"/>
<path fill="#ff9f00" d="M452 154h2v2h-2zM458 154h2v2h-2zM458 160h2v2h-2zM226 396h2v2h-2zM224 408h2v2h-2z"/>
<path fill="#ff8300" d="M226 400h2v2h-2zM224 404h2v2h-2zM226 412h2v2h-2zM228 412h2v2h-2z"/>
<path fill="#ff6400" d="M230 400h2v2h-2zM226 410h2v2h-2z"/>
<path fill="#ff4300" d="M228 394h2v2h-2zM230 396h2v2h-2zM232 398h2v2h-2zM224 400h2v2h-2zM230 406h2v2h-2zM226 408h2v2h-2z"/>
<path fill="#ff2100" d="M226 406h2v2h-2z"/>
<path fill="#ff0000" d="M228 398h2v2h-2zM230 398h2v2h-2zM228 400h2v2h-2zM232 400h2v2h-2zM230 402h2v2h-2zM226 404h2v2h-2zM228 404h2v2h-2zM230 404h2v2h-2zM232 404h2v2h-2zM228 406h2v2h-2zM232 406h2v2h-2zM228 408h2v2h-2zM230 410h2v2h-2z"/>
<path d="M112.4 52.2H118.6M112.4 90.3H118.6M112.4 95.9H118.6M112.4 103.4H118.6M112.4 109.1H118.6M112.4 129.6H118.6M112.4 143.0H118.6M112.4 163.9H118.6M112.4 203.5H118.6M112.4 211.2H118.6M112.4 218.7H118.6M112.4 226.3H118.6M112.4 249.0H118.6M112.4 266.3H118.6M112.4 290.6H118.6M112.4 339.9H118.6M112.4 345.7H118.6M112.4 353.1H118.6M112.4 360.6H118.6M112.4 375.9H118.6M112.4 385.4H118.6M112.4 395.0H118.6M112.4 431.0H118.6M112.4 440.3H118.6M112.4 447.7H118.6M112.4 465.0H118.6M112.4 472.6H118.6M112.4 479.9H118.6M112.4 485.3H118.6M153.8 524.1V529.3M159.2 524.1V529.3M166.9 524.1V529.3M174.6 524.1V529.3M191.5 524.1V529.3M198.8 524.1V529.3M208.5 524.1V529.3M244.2 524.1V529.3M254.2 524.1V529.3M263.5 524.1V529.3M278.7 524.1V529.3M286.2 524.1V529.3M293.8 524.1V529.3M299.6 524.1V529.3M348.8 524.1V529.3M373.5 524.1V529.3M390.4 524.1V529.3M413.1 524.1V529.3M420.8 524.1V529.3M428.5 524.1V529.3M436.2 524.1V529.3M475.8 524.1V529.3M496.5 524.1V529.3M510.0 524.1V529.3M530.8 524.1V529.3M536.5 524.1V529.3M543.8 524.1V529.3M549.3 524.1V529.3M587.8 524.1V529.3" stroke="#000" stroke-width="2" fill="none"/>
<path d="M109 118.3H118.6M109 235.9H118.6M109 367.9H118.6M109 457.4H118.6M181.9 524.1V533M271.2 524.1V533M403.8 524.1V533M521.5 524.1V533" stroke="#000" stroke-width="2.5" fill="none"/>
<path d="M104.6 84.5H118.6M104.6 200.0H118.6M104.6 332.3H118.6M104.6 491.2H118.6M148.1 524.1V536.6M307.3 524.1V536.6M440.0 524.1V536.6M555.5 524.1V536.6" stroke="#000" stroke-width="3" fill="none"/>
<path d="M117.69999999999999 38.6H604.3" stroke="#141414" stroke-width="1.8"/><path d="M118.6 38.6V524.1M117.69999999999999 524.1H604.3M603.4 38.6V524.1" stroke="#262626" stroke-width="1.9" fill="none"/>
<path d="M104.5 400.7H118.5V422.9H104.5V418.7H109.4V415.8H104.5V408.9H111V404.4H104.5Z" fill="#000"/>
<path d="M216.7 523.5H239.1V536.2H235.6V529.5H233V532.5H230.2V536.2H224.6V529.5H219.4V536.2H216.7Z" fill="#000"/>
<path d="M348.85 38.6V528.8M118.6 338.05H603.4" stroke="#000" stroke-width="2.7" fill="none"/>

<text class="t" style="font-size:35.6px" transform="translate(296.4,591.9) scale(0.955,1)">CD3 PE</text>
<text class="t" style="font-size:34.3px" transform="translate(47.9,434.9) rotate(-90)">CD4 Alexa Fluor 647</text>
</g>
</svg>
</body></html>
